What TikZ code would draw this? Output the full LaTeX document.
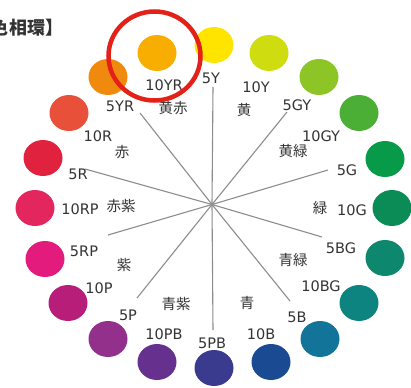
\documentclass[tikz,border=0pt]{standalone}
\usepackage{fontspec}
\usetikzlibrary{shapes.geometric}
\newfontfamily\jpfont{Noto Sans CJK JP}
\newfontfamily\lafont{DejaVu Sans}
\definecolor{txt}{HTML}{333333}
\definecolor{spokegray}{HTML}{8C8C8C}
\definecolor{ringred}{HTML}{E32119}
\definecolor{c5Y}{HTML}{FFE400}
\definecolor{c10YR}{HTML}{F7AE00}
\definecolor{c5YR}{HTML}{EF8A0E}
\definecolor{c10R}{HTML}{E8503A}
\definecolor{c5R}{HTML}{E0223F}
\definecolor{c10RP}{HTML}{E3265E}
\definecolor{c5RP}{HTML}{E31B7C}
\definecolor{c10P}{HTML}{B71E7A}
\definecolor{c5P}{HTML}{93308C}
\definecolor{c10PB}{HTML}{66308E}
\definecolor{c5PB}{HTML}{3A3B8E}
\definecolor{c10B}{HTML}{1A4A92}
\definecolor{c5B}{HTML}{137499}
\definecolor{c10BG}{HTML}{0E8480}
\definecolor{c5BG}{HTML}{0E876F}
\definecolor{c10G}{HTML}{0B8B56}
\definecolor{c5G}{HTML}{079A48}
\definecolor{c10GY}{HTML}{4BAF36}
\definecolor{c5GY}{HTML}{8DC426}
\definecolor{c10Y}{HTML}{CEDC10}
\begin{document}
\begin{tikzpicture}[x=1pt,y=-1pt,
  dot/.style={ellipse, inner sep=0pt, minimum width=39pt, minimum height=36pt},
  hue/.style={font=\lafont\fontsize{14.5}{15}\selectfont, text=txt, inner sep=0pt},
  jname/.style={font=\jpfont\fontsize{14.5}{15}\selectfont, text=txt, inner sep=0pt},
  titletext/.style={font=\jpfont\bfseries\fontsize{18}{18}\selectfont, text=txt, inner sep=0pt},
  spoke/.style={draw=spokegray, line width=1.1pt}]
\useasboundingbox (0,0) rectangle (411,387);
% title (cut off at the left edge, as in the reference)
\node[titletext, anchor=base west] (title) at (9,35) {相環};
\node[titletext, anchor=base east] (titleA) at (title.base west) {【色};
\node[titletext, anchor=base west] (titleB) at (title.base east) {】};
% spokes
\coordinate (hub) at (212,204.5);
\coordinate (e5Y) at (213,87);
\coordinate (e5PB) at (213,330);
\coordinate (e5YR) at (140,113);
\coordinate (e5B) at (290,301);
\coordinate (e5R) at (85,169);
\coordinate (e5BG) at (322,237);
\coordinate (e5RP) at (108,235);
\coordinate (e5G) at (328,170);
\coordinate (e5P) at (137,298);
\coordinate (e5GY) at (287,112);
\foreach \e in {e5Y,e5PB,e5YR,e5B,e5R,e5BG,e5RP,e5G,e5P,e5GY}
  \draw[spoke] (\e) -- (hub);
% colour circles
\node[dot, fill=c5Y]   (d5Y)   at (214,45) {};
\node[dot, fill=c10YR] (d10YR) at (157,53) {};
\node[dot, fill=c5YR]  (d5YR)  at (108,77) {};
\node[dot, fill=c10R]  (d10R)  at (69,113) {};
\node[dot, fill=c5R]   (d5R)   at (43,158) {};
\node[dot, fill=c10RP] (d10RP) at (35,208) {};
\node[dot, fill=c5RP]  (d5RP)  at (45,259) {};
\node[dot, fill=c10P]  (d10P)  at (68,303) {};
\node[dot, fill=c5P]   (d5P)   at (108,339) {};
\node[dot, fill=c10PB] (d10PB) at (157,362) {};
\node[dot, fill=c5PB]  (d5PB)  at (214,368) {};
\node[dot, fill=c10B]  (d10B)  at (271,362) {};
\node[dot, fill=c5B]   (d5B)   at (320,339) {};
\node[dot, fill=c10BG] (d10BG) at (359,303) {};
\node[dot, fill=c5BG]  (d5BG)  at (385,258) {};
\node[dot, fill=c10G]  (d10G)  at (392,208) {};
\node[dot, fill=c5G]   (d5G)   at (385,159) {};
\node[dot, fill=c10GY] (d10GY) at (359,113) {};
\node[dot, fill=c5GY]  (d5GY)  at (319,77) {};
\node[dot, fill=c10Y]  (d10Y)  at (269,53) {};
% hue labels
\node[hue] (l10YR) at (164,85) {10YR};
\node[hue] (l5Y)   at (211,78) {5Y};
\node[hue] (l10Y)  at (256,87) {10Y};
\node[hue] (l5GY)  at (297,105) {5GY};
\node[hue] (l10GY) at (321,136) {10GY};
\node[hue] (l5G)   at (347,170) {5G};
\node[hue] (l10G)  at (352,210) {10G};
\node[hue] (l5BG)  at (341,248) {5BG};
\node[hue] (l10BG) at (321,286) {10BG};
\node[hue] (l5B)   at (297,317) {5B};
\node[hue] (l10B)  at (261,334) {10B};
\node[hue] (l5PB)  at (212,343) {5PB};
\node[hue] (l10PB) at (164,334) {10PB};
\node[hue] (l5P)   at (128,315) {5P};
\node[hue] (l10P)  at (99,288) {10P};
\node[hue] (l5RP)  at (84,251) {5RP};
\node[hue] (l10RP) at (80,209) {10RP};
\node[hue] (l5R)   at (78,174) {5R};
\node[hue] (l10R)  at (98,136) {10R};
\node[hue] (l5YR)  at (120,106) {5YR};
% colour names
\node[jname] (nYR) at (173,108) {黄赤};
\node[jname] (nY)  at (244,110) {黄};
\node[jname] (nGY) at (293,151) {黄緑};
\node[jname] (nG)  at (320,208) {緑};
\node[jname] (nBG) at (293,260) {青緑};
\node[jname] (nB)  at (247,303) {青};
\node[jname] (nPB) at (176,304) {青紫};
\node[jname] (nP)  at (124,265) {紫};
\node[jname] (nRP) at (121,206) {赤紫};
\node[jname] (nR)  at (122,152) {赤};
% highlight ring
\node[draw=ringred, line width=4.5pt, ellipse, minimum width=92pt, minimum height=89pt, inner sep=0pt] (ring) at (154.5,56) {};
\end{tikzpicture}
\end{document}
